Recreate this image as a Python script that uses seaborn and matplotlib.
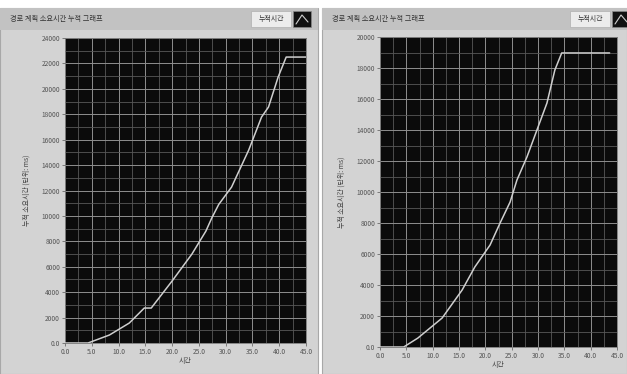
import numpy as np
import matplotlib
matplotlib.use("Agg")
import matplotlib.pyplot as plt
import seaborn as sns
from matplotlib.patches import Rectangle
from matplotlib.lines import Line2D

sns.set_theme(style="dark")
plt.rcParams['font.family'] = ['Noto Sans CJK KR', 'DejaVu Sans']

# 데이터
titulo = "경로 계획 소요시간 누적 그래프"
leyenda = "누적시간"
etiqueta_y = "누적 소요시간 (단위: ms)"
etiqueta_x = "시간"

izq_x = [0, 4.3, 8.3, 12.0, 14.8, 16.1, 20.0, 23.7, 26.3, 27.4, 28.7, 31.1,
         34.3, 36.7, 38.0, 39.8, 41.3, 45.0]
izq_y = [0, 0, 630, 1570, 2750, 2750, 4880, 7000, 8800, 9830, 10900, 12270,
         15180, 17780, 18570, 20930, 22500, 22500]
izq_ymax = 24000

der_x = [0, 4.5, 7.2, 11.8, 15.6, 18.0, 20.9, 22.8, 24.7, 26.0, 27.9, 29.8,
         31.7, 33.2, 34.5, 43.6]
der_y = [0, 0, 580, 1870, 3680, 5160, 6580, 8000, 9350, 10770, 12260, 14000,
         15740, 17870, 18970, 18970]
der_ymax = 20000

x_ticks = np.arange(0, 46, 5)

W, H = 627, 374
fig = plt.figure(figsize=(W / 100, H / 100), dpi=100)
fig.patch.set_facecolor('white')


def px(x0, y0, x1, y1):
    # caja en pixeles -> coordenadas de figura
    return [x0 / W, 1 - y1 / H, (x1 - x0) / W, (y1 - y0) / H]


def panel(x0, x1, ax_box, xs, ys, ymax, leg_x):
    # fondo del panel
    fig.patches.append(Rectangle((x0 / W, 0), (x1 - x0) / W, 1 - 8 / H,
                                 transform=fig.transFigure, facecolor='#d3d3d3',
                                 edgecolor='#a8a8a8', lw=0.8, zorder=-2))
    fig.patches.append(Rectangle((x0 / W, 1 - 30 / H), (x1 - x0) / W, 22 / H,
                                 transform=fig.transFigure, facecolor='#c2c2c2',
                                 edgecolor='none', zorder=-2))
    fig.text((x0 + 10) / W, 1 - 19 / H, titulo, fontsize=5.2, color='#333333',
             va='center', ha='left')
    # leyenda
    fig.patches.append(Rectangle(((leg_x - 42) / W, 1 - 27 / H), 40 / W, 16 / H,
                                 transform=fig.transFigure, facecolor='#ececec',
                                 edgecolor='#b0b0b0', lw=0.5, zorder=-1))
    fig.text((leg_x - 22) / W, 1 - 19 / H, leyenda, fontsize=5, color='#333333',
             va='center', ha='center')
    fig.patches.append(Rectangle((leg_x / W, 1 - 27 / H), 18 / W, 16 / H,
                                 transform=fig.transFigure, facecolor='#111111',
                                 edgecolor='#888888', lw=0.5, zorder=-1))
    fig.lines.append(Line2D([(leg_x + 3) / W, (leg_x + 9) / W, (leg_x + 15) / W],
                            [1 - 24 / H, 1 - 15 / H, 1 - 22 / H],
                            transform=fig.transFigure, color='#cfcfcf', lw=0.8))

    ax = fig.add_axes(px(*ax_box))
    ax.set_zorder(3)
    ax.set_facecolor('#0b0b0b')
    sns.lineplot(x=xs, y=ys, ax=ax, color='#cfcfcf', lw=1.1, sort=False,
                 estimator=None, zorder=5)
    ax.set_xlim(0, 45)
    ax.set_ylim(0, ymax)
    ax.set_xticks(x_ticks)
    ax.set_xticks(np.arange(0, 45.1, 2.5), minor=True)
    ax.set_yticks(np.arange(0, ymax + 1, 2000))
    ax.set_yticks(np.arange(0, ymax + 1, 1000), minor=True)
    ax.set_xticklabels([f"{v:.1f}" for v in x_ticks])
    ax.set_yticklabels(["0.0"] + [str(v) for v in range(2000, ymax + 1, 2000)])
    ax.grid(which='major', color='#8f8f8f', lw=0.7)
    ax.grid(which='minor', color='#585858', lw=0.6)
    ax.tick_params(which='major', labelsize=4.8, colors='#555555', length=2,
                   width=0.5, pad=1.5, left=True, bottom=True)
    ax.tick_params(which='minor', length=0)
    for s in ax.spines.values():
        s.set_color('#777777')
        s.set_linewidth(0.6)
    ax.set_xlabel(etiqueta_x, fontsize=5, color='#444444', labelpad=1)
    ax.set_ylabel(etiqueta_y, fontsize=5, color='#444444', labelpad=8)
    return ax


panel(0, 318, (65, 38, 306, 343), izq_x, izq_y, izq_ymax, 293)
panel(322, 627, (380, 37, 617, 347), der_x, der_y, der_ymax, 612)

fig.savefig("out.png", dpi=100, facecolor=fig.get_facecolor())
